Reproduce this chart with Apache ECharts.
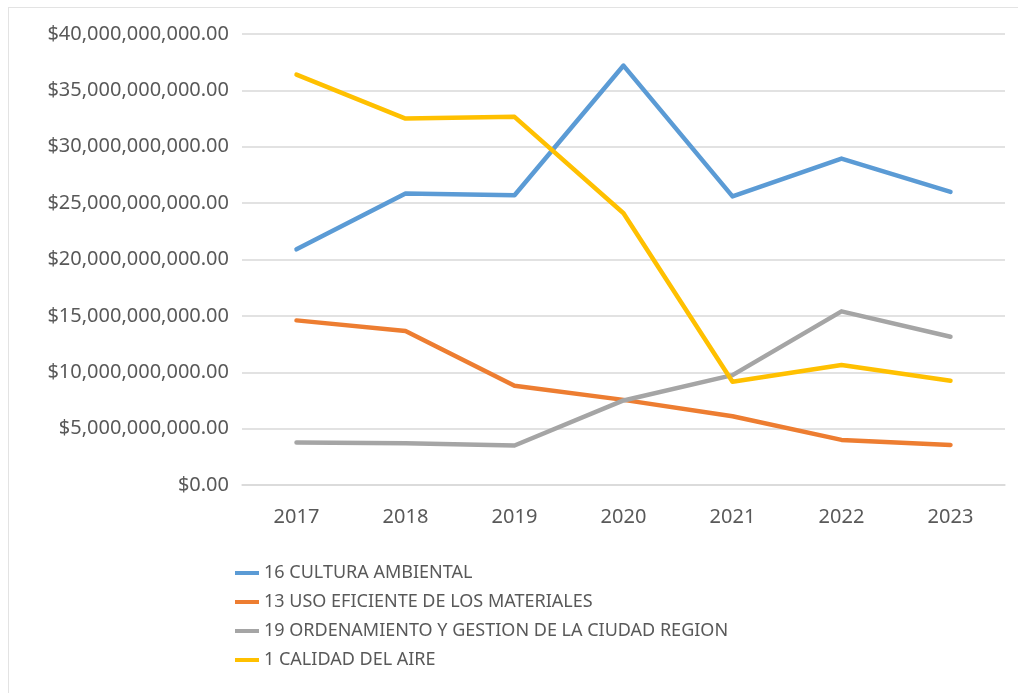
<!DOCTYPE html>
<html>
<head>
<meta charset="utf-8">
<script src="https://cdn.jsdelivr.net/npm/echarts@6/dist/echarts.min.js"></script>
<style>
    html, body { margin: 0; padding: 0; background: #fff; }
    #chart { width: 1018px; height: 693px; }
</style>
</head>
<body>
<div id="chart"></div>
<script>
const years = ['2017', '2018', '2019', '2020', '2021', '2022', '2023'];

const culturaAmbiental = [20.9e9, 25.85e9, 25.7e9, 37.2e9, 25.6e9, 28.95e9, 26.0e9];
const usoEficiente     = [14.6e9, 13.65e9, 8.8e9, 7.55e9, 6.1e9, 4.0e9, 3.55e9];
const ordenamiento     = [3.77e9, 3.7e9, 3.5e9, 7.5e9, 9.75e9, 15.4e9, 13.15e9];
const calidadAire      = [36.4e9, 32.5e9, 32.65e9, 24.1e9, 9.15e9, 10.65e9, 9.25e9];

const seriesNames = [
    '16 CULTURA AMBIENTAL',
    '13 USO EFICIENTE DE LOS MATERIALES',
    '19 ORDENAMIENTO Y GESTION DE LA CIUDAD REGION',
    '1 CALIDAD DEL AIRE',
];
const seriesColors = ['#5B9BD5', '#ED7D31', '#A5A5A5', '#FFC000'];

const FONT = '"Noto Sans", "Open Sans", sans-serif';
const TEXT = '#595959';

const money = (v) => '$' + v.toLocaleString('en-US', { minimumFractionDigits: 2, maximumFractionDigits: 2 });

function lineSeries(name, data, color) {
    return {
        name,
        type: 'line',
        data,
        symbol: 'none',
        lineStyle: { color, width: 4.5, cap: 'round', join: 'round' },
        itemStyle: { color },
    };
}

const chart = echarts.init(document.getElementById('chart'), null, { renderer: 'canvas' });

chart.setOption({
    animation: false,
    backgroundColor: '#fff',
    textStyle: { fontFamily: FONT },
    grid: { left: 242, right: 13, top: 34, bottom: 208 },
    xAxis: {
        type: 'category',
        data: years,
        boundaryGap: true,
        axisLine: { show: true, lineStyle: { color: '#D9D9D9', width: 1.5 } },
        axisTick: { show: false },
        axisLabel: { color: TEXT, fontSize: 20, margin: 22, fontFamily: FONT },
    },
    yAxis: {
        type: 'value',
        min: 0,
        max: 40e9,
        interval: 5e9,
        axisLine: { show: false },
        axisTick: { show: false },
        splitLine: { lineStyle: { color: '#D9D9D9', width: 1.5 } },
        axisLabel: { color: TEXT, fontSize: 20, margin: 13, fontFamily: FONT, formatter: money },
    },
    legend: {
        orient: 'vertical',
        left: 235,
        top: 564,
        padding: 0,
        icon: 'rect',
        itemWidth: 24,
        itemHeight: 4,
        itemGap: 11,
        data: seriesNames,
        textStyle: { color: TEXT, fontSize: 18, fontFamily: FONT },
    },
    graphic: [
        { type: 'line', shape: { x1: 8, y1: 7.5, x2: 1018, y2: 7.5 }, style: { stroke: '#E3E3E3', lineWidth: 1 } },
        { type: 'line', shape: { x1: 8.5, y1: 7, x2: 8.5, y2: 693 }, style: { stroke: '#E3E3E3', lineWidth: 1 } },
    ],
    series: [
        lineSeries(seriesNames[0], culturaAmbiental, seriesColors[0]),
        lineSeries(seriesNames[1], usoEficiente, seriesColors[1]),
        lineSeries(seriesNames[2], ordenamiento, seriesColors[2]),
        lineSeries(seriesNames[3], calidadAire, seriesColors[3]),
    ],
});
</script>
</body>
</html>
